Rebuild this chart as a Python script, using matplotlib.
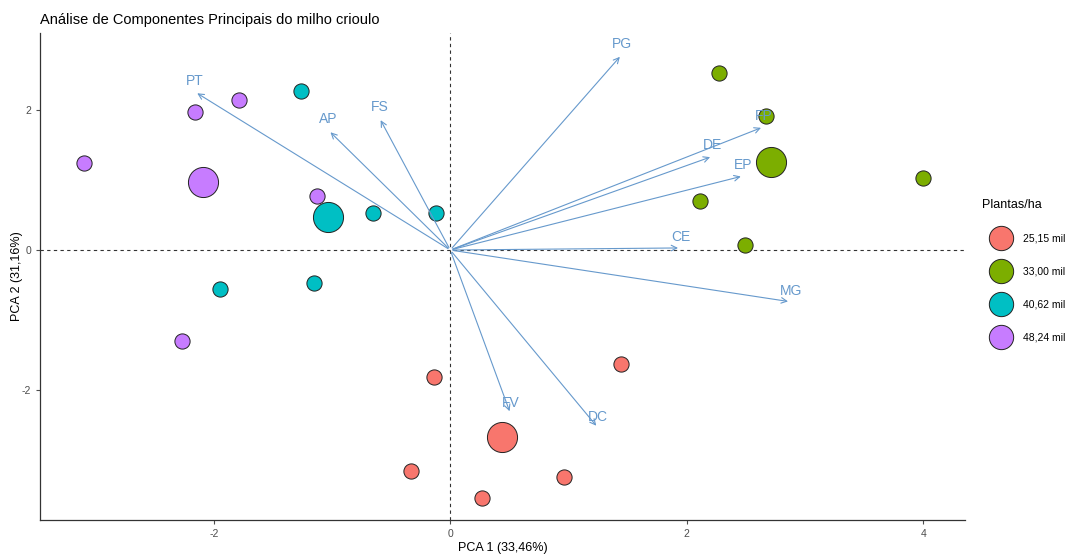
import numpy as np
import matplotlib.pyplot as plt
from matplotlib.lines import Line2D

plt.rcParams['font.family'] = ['Liberation Sans', 'DejaVu Sans']
plt.rcParams['axes.unicode_minus'] = False

groups = ["25,15 mil", "33,00 mil", "40,62 mil", "48,24 mil"]
colors = ["#F8766D", "#7CAE00", "#00BFC4", "#C77CFF"]

# scores per group (PC1, PC2); last one in each list is the group centroid
pc1 = {
    "25,15 mil": [1.44, -0.14, -0.33, 0.96, 0.27, 0.44],
    "33,00 mil": [2.27, 2.67, 2.11, 2.49, 4.00, 2.71],
    "40,62 mil": [-1.26, -0.65, -0.12, -1.95, -1.15, -1.03],
    "48,24 mil": [-3.10, -2.16, -1.79, -1.13, -2.27, -2.09],
}
pc2 = {
    "25,15 mil": [-1.63, -1.81, -3.16, -3.24, -3.54, -2.67],
    "33,00 mil": [2.53, 1.91, 0.70, 0.07, 1.03, 1.26],
    "40,62 mil": [2.27, 0.53, 0.53, -0.56, -0.47, 0.47],
    "48,24 mil": [1.24, 1.97, 2.14, 0.77, -1.30, 0.97],
}

# variable loadings (arrows)
var_names = ["PG", "FP", "DE", "EP", "CE", "MG", "DC", "FV", "PT", "AP", "FS"]
load_x = [1.45, 2.65, 2.22, 2.48, 1.95, 2.88, 1.25, 0.51, -2.16, -1.03, -0.60]
load_y = [2.79, 1.76, 1.34, 1.06, 0.03, -0.74, -2.54, -2.34, 2.26, 1.71, 1.89]

fig = plt.figure(figsize=(10.7, 5.55), dpi=100)
ax = fig.add_axes([0.0374, 0.063, 0.8646, 0.8775])

ax.axhline(0, color="#333333", linestyle=(0, (3, 3)), linewidth=0.8, zorder=1)
ax.axvline(0, color="#333333", linestyle=(0, (3, 3)), linewidth=0.8, zorder=1)

for g, c in zip(groups, colors):
    xs = pc1[g]
    ys = pc2[g]
    ax.scatter(xs[:-1], ys[:-1], s=120, color=c, edgecolor="#222222", linewidth=0.7, zorder=3)
    ax.scatter(xs[-1:], ys[-1:], s=470, color=c, edgecolor="#222222", linewidth=0.7, zorder=3)

arrow_col = "#6699CC"
for name, lx, ly in zip(var_names, load_x, load_y):
    ax.annotate("", xy=(lx, ly), xytext=(0, 0),
                arrowprops=dict(arrowstyle="->", color=arrow_col, lw=0.8,
                                mutation_scale=10), zorder=4)
    ax.annotate(name, xy=(lx, ly), xytext=(0, 8), textcoords="offset points",
                ha="center", va="center", color=arrow_col, fontsize=10, zorder=5)

ax.set_xlim(-3.47, 4.355)
ax.set_ylim(-3.857, 3.10)
ax.set_xticks([-2, 0, 2, 4])
ax.set_yticks([-2, 0, 2])
ax.spines["top"].set_visible(False)
ax.spines["right"].set_visible(False)
for sp in ["left", "bottom"]:
    ax.spines[sp].set_color("#333333")
    ax.spines[sp].set_linewidth(0.9)
ax.tick_params(labelsize=7.5, colors="#4D4D4D", length=3, width=0.8)
ax.set_xlabel("PCA 1 (33,46%)", fontsize=9, labelpad=2)
ax.set_ylabel("PCA 2 (31,16%)", fontsize=9)
ax.yaxis.set_label_coords(-0.0184, 0.5)

fig.text(0.0374, 0.951, "Análise de Componentes Principais do milho crioulo",
         fontsize=10.5, ha="left", va="bottom")

handles = [Line2D([], [], marker="o", linestyle="", markersize=17.5,
                  markerfacecolor=c, markeredgecolor="#222222", markeredgewidth=0.7)
           for c in colors]
leg = fig.legend(handles, groups, title="Plantas/ha", loc="upper left",
                 bbox_to_anchor=(0.909, 0.659), frameon=False, fontsize=7.5,
                 title_fontsize=9, labelspacing=2.2, handletextpad=0.3,
                 handlelength=3.6)
leg._legend_box.align = "left"

fig.savefig("out.png", dpi=100)
